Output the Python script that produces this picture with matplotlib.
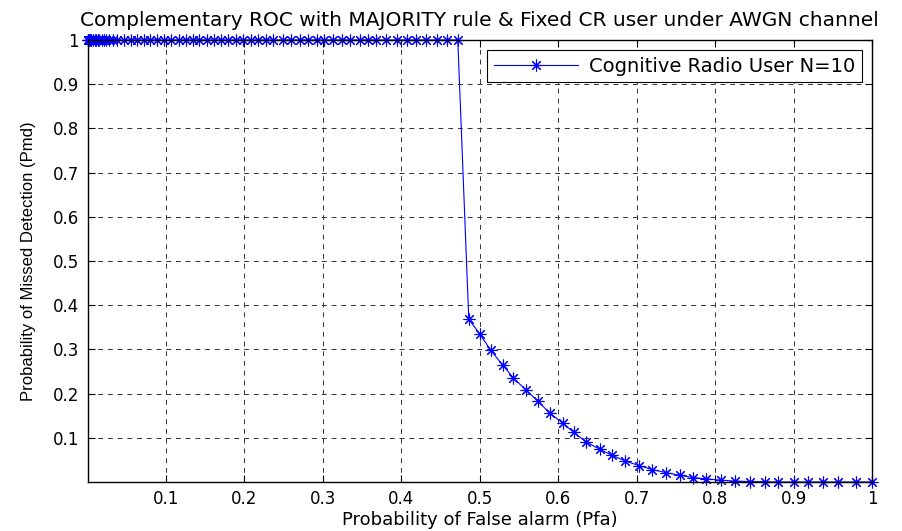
import numpy as np
import matplotlib
matplotlib.use("Agg")
import matplotlib.pyplot as plt

plt.rcParams['font.family'] = ['DejaVu Sans']

# flat part, Pmd = 1
pfa_flat = [0.0, 0.0005, 0.001, 0.002, 0.003, 0.004, 0.005, 0.007, 0.009, 0.011, 0.013,
            0.015, 0.018, 0.021, 0.024, 0.027,
            0.032, 0.038, 0.046, 0.055, 0.063, 0.072, 0.080, 0.089, 0.097, 0.107,
            0.116, 0.125, 0.134, 0.142, 0.152, 0.161, 0.170, 0.179, 0.189, 0.198,
            0.208, 0.217, 0.227, 0.237, 0.249, 0.260, 0.271, 0.281, 0.292, 0.302,
            0.313, 0.324, 0.334, 0.347, 0.358, 0.368, 0.381, 0.395, 0.407, 0.419,
            0.432, 0.445, 0.458, 0.472]
pmd_flat = [1.0] * len(pfa_flat)

# decaying part
pfa_tail = [0.486, 0.500, 0.514, 0.529, 0.543, 0.559, 0.574, 0.589, 0.606, 0.620,
            0.636, 0.653, 0.669, 0.685, 0.703, 0.720, 0.738, 0.755, 0.772, 0.789,
            0.807, 0.825, 0.844, 0.863, 0.880, 0.900, 0.918, 0.938, 0.957, 0.980, 1.000]
pmd_tail = [0.368, 0.335, 0.298, 0.265, 0.235, 0.208, 0.183, 0.156, 0.133, 0.112,
            0.090, 0.074, 0.060, 0.048, 0.037, 0.028, 0.021, 0.015, 0.010, 0.007,
            0.004, 0.002, 0.001, 0.0005, 0.0, 0.0, 0.0, 0.0, 0.0, 0.0, 0.0]

pfa = pfa_flat + pfa_tail
pmd = pmd_flat + pmd_tail

ticks = [0.1, 0.2, 0.3, 0.4, 0.5, 0.6, 0.7, 0.8, 0.9, 1.0]
tick_labels = ['0.1', '0.2', '0.3', '0.4', '0.5', '0.6', '0.7', '0.8', '0.9', '1']

fig = plt.figure(figsize=(9.03, 5.31), dpi=100)
ax = fig.add_axes([0.0969, 0.0923, 0.8688, 0.8324])

asterisk = (8, 2, 0)
ax.plot(pfa, pmd, color='blue', marker=asterisk, markersize=8.5, linewidth=0.8,
        markeredgewidth=0.8, label='Cognitive Radio User N=10', clip_on=False)

ax.set_xlim(0, 1)
ax.set_ylim(0, 1)
ax.set_xticks(ticks)
ax.set_xticklabels(tick_labels)
ax.set_yticks(ticks)
ax.set_yticklabels(tick_labels)
ax.tick_params(direction='in', length=5, width=0.8, top=True, right=True,
               labelsize=12, pad=6)
for s in ax.spines.values():
    s.set_linewidth(1.0)
    s.set_color('black')

ax.grid(True, color='#333333', linestyle=(0, (5, 5)), linewidth=0.7)

ax.set_title('Complementary ROC with MAJORITY rule & Fixed CR user under AWGN channel',
             fontsize=14.5, pad=10)
ax.set_xlabel('Probability of False alarm (Pfa)', fontsize=13, labelpad=2)
ax.set_ylabel('Probability of Missed Detection (Pmd)', fontsize=12, labelpad=12,
              family=['Liberation Sans', 'DejaVu Sans'])

leg = ax.legend(loc='upper right', fontsize=14, fancybox=False, framealpha=1,
                edgecolor='black', borderaxespad=0.5, handlelength=4.3,
                borderpad=0.35, handletextpad=0.6)
leg.get_frame().set_linewidth(0.8)

fig.savefig('out.png', dpi=100)
